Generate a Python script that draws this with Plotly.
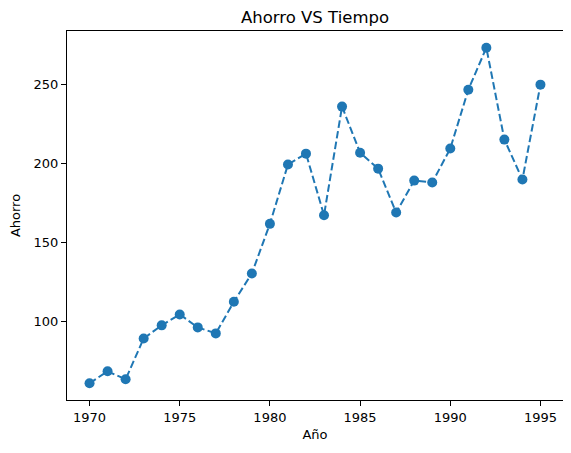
import plotly.graph_objects as go

# Ahorro por año
anios = list(range(1970, 1996))
ahorro = [
    60.6, 68.2, 63.1, 89.0, 97.3, 104.2, 96.0, 92.2, 112.2, 130.2,
    161.6, 199.2, 206.1, 167.1, 235.9, 206.7, 196.6, 168.8, 189.0, 187.8,
    209.3, 246.6, 273.2, 215.0, 189.7, 249.8,
]
x_ticks = [1970, 1975, 1980, 1985, 1990, 1995]
y_ticks = [100, 150, 200, 250]

fig = go.Figure()
fig.add_trace(
    go.Scatter(
        x=anios,
        y=ahorro,
        mode="lines+markers",
        line=dict(color="#1f77b4", width=2, dash="7.5px,3.3px"),
        marker=dict(color="#1f77b4", size=10),
        showlegend=False,
    )
)

axis_common = dict(
    showgrid=False,
    zeroline=False,
    showline=True,
    linecolor="black",
    linewidth=1,
    mirror=True,
    ticks="outside",
    ticklen=5,
    tickwidth=1,
    tickcolor="black",
    automargin=False,
    tickfont=dict(family="DejaVu Sans", size=13, color="black"),
)

fig.update_xaxes(
    range=[1968.75, 1996.25],
    tickvals=x_ticks,
    title=dict(text="Año", font=dict(family="DejaVu Sans", size=13, color="black"), standoff=6),
    **axis_common,
)
fig.update_yaxes(
    range=[50.0, 283.8],
    tickvals=y_ticks,
    title=dict(text="Ahorro", font=dict(family="DejaVu Sans", size=13, color="black"), standoff=10),
    **axis_common,
)

# the page puts the figure 8px in from the window corner, margins make up for it
fig.update_layout(
    width=571,
    height=453,
    title=dict(
        text="Ahorro VS Tiempo",
        x=0.5,
        xref="paper",
        xanchor="center",
        y=1 - 9 / 453,
        yanchor="middle",
        font=dict(family="DejaVu Sans", size=16.5, color="black"),
    ),
    plot_bgcolor="white",
    paper_bgcolor="white",
    margin=dict(l=59, r=16, t=23, b=61),
)

fig.write_html("out.html")
